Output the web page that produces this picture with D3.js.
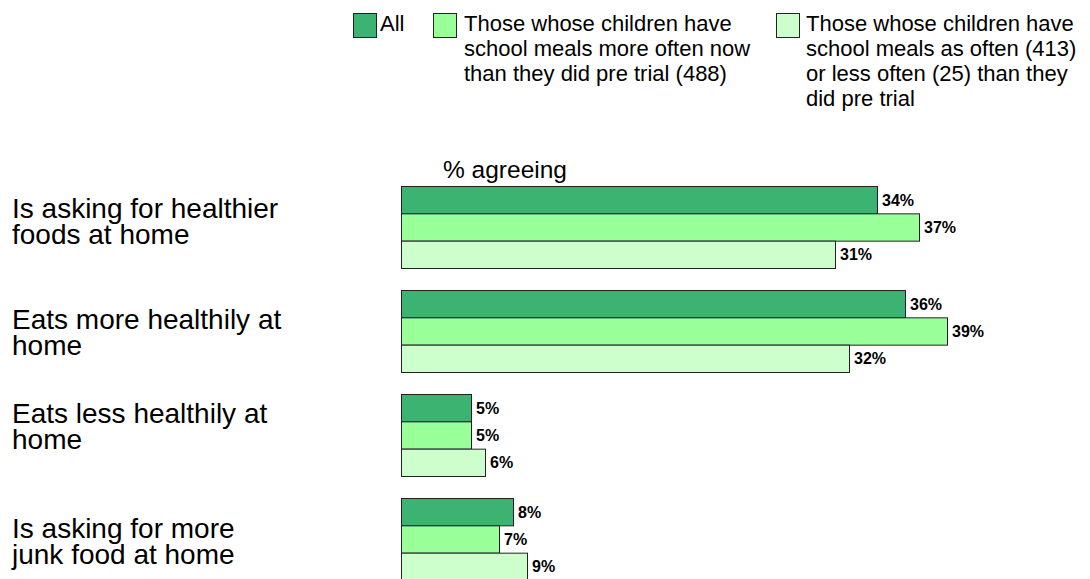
<!DOCTYPE html>
<html><head><meta charset="utf-8">
<script src="https://cdn.jsdelivr.net/npm/d3@7"></script>
<style>body{margin:0;background:#fff}svg{display:block;font-family:"Liberation Sans",Arial,sans-serif}</style>
</head><body><svg id="c" width="1090" height="579"></svg>
<script>
const categories = [
  ["Is asking for healthier","foods at home"],
  ["Eats more healthily at","home"],
  ["Eats less healthily at","home"],
  ["Is asking for more","junk food at home"]
];
const seriesNames = ["All","Those whose children have school meals more often now than they did pre trial (488)","Those whose children have school meals as often (413) or less often (25) than they did pre trial"];
const legendLines = [["All"],["Those whose children have","school meals more often now","than they did pre trial (488)"],["Those whose children have","school meals as often (413)","or less often (25) than they","did pre trial"]];
const allVals = [34,36,5,8];
const moreOften = [37,39,5,7];
const sameOrLess = [31,32,6,9];
const colors = ["#3cb371","#99ff99","#ccffcc"];

// layout (not data)
const labelOffsets = [32,39,29,40];

const svg = d3.select("#c");
const series = [allVals, moreOften, sameOrLess];
const x = d3.scaleLinear().domain([0,39]).range([401,947]);
const y0 = d3.scaleBand().domain(d3.range(categories.length)).range([186,580]).paddingInner(22/104).paddingOuter(0);
const y1 = d3.scaleBand().domain(d3.range(3)).range([0,y0.bandwidth()]);

svg.append("text").attr("x",443).attr("y",178).attr("font-size",24.5).attr("fill","#000").text("% agreeing");

categories.forEach((lines,i)=>{
  const cy = y0(i);
  lines.forEach((l,k)=>{
    svg.append("text").attr("x",12).attr("y",cy+labelOffsets[i]+k*26).attr("font-size",28).attr("fill","#000").text(l);
  });
  series.forEach((s,j)=>{
    const by = cy + y1(j);
    svg.append("rect").attr("x",x(0)+0.5).attr("y",by+0.5)
      .attr("width",x(s[i])-x(0)).attr("height",y1.bandwidth())
      .attr("fill",colors[j]).attr("stroke","#222").attr("stroke-width",1);
    svg.append("text").attr("x",x(s[i])+5).attr("y",by+y1.bandwidth()/2+6)
      .attr("font-size",16).attr("font-weight","bold").attr("fill","#000").text(s[i]+"%");
  });
});

const legX = [353,433,776];
const legTX = [380,464,806];
legendLines.forEach((lines,j)=>{
  svg.append("rect").attr("x",legX[j]+0.5).attr("y",13.5).attr("width",23).attr("height",24)
    .attr("fill",colors[j]).attr("stroke","#222");
  lines.forEach((l,k)=>{
    svg.append("text").attr("x",legTX[j]).attr("y",31+k*25).attr("font-size",22).attr("fill","#000").text(l);
  });
});
</script></body></html>
